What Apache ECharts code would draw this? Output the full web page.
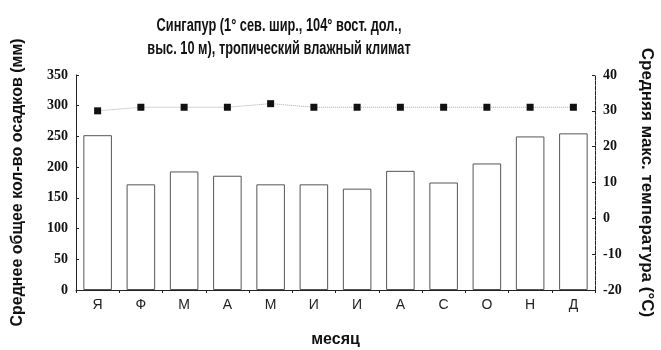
<!DOCTYPE html>
<html>
<head>
<meta charset="utf-8">
<script src="https://cdn.jsdelivr.net/npm/echarts@6/dist/echarts.min.js"></script>
<style>
  html, body { margin: 0; padding: 0; background: #ffffff; }
  #chart { width: 661px; height: 350px; }
</style>
</head>
<body>
<div id="chart"></div>
<script>
// Singapore climate: monthly precipitation and mean maximum temperature
const months = ['Я', 'Ф', 'М', 'А', 'М', 'И', 'И', 'А', 'С', 'О', 'Н', 'Д'];
const precipitation = [252, 172, 193, 186, 172, 172, 165, 194, 175, 206, 250, 255];
const maxTemp = [30, 31, 31, 31, 32, 31, 31, 31, 31, 31, 31, 31];
const precipTicks = { min: 0, max: 350, interval: 50 };
const tempTicks = { min: -20, max: 40, interval: 10 };

const titleLines = ['Сингапур (1° сев. шир., 104° вост. дол.,', 'выс. 10 м), тропический влажный климат'];
const leftName = 'Среднее общее кол-во осадков (мм)';
const rightName = 'Средняя макс. температура (°С)';
const xName = 'месяц';

const serif = '"Liberation Serif", "DejaVu Serif", serif';
const sans = '"Liberation Sans", Arial, sans-serif';

const chart = echarts.init(document.getElementById('chart'), null, { renderer: 'canvas' });

// Title drawn as condensed text (horizontally squeezed bold sans)
const titleGraphics = titleLines.map((line, i) => ({
  type: 'text',
  x: 279,
  y: 26 + i * 23,
  scaleX: 0.71,
  style: {
    text: line,
    fill: '#111',
    font: 'bold 18px ' + sans,
    textAlign: 'center',
    textVerticalAlign: 'middle'
  }
}));

chart.setOption({
  backgroundColor: '#ffffff',
  animation: false,
  graphic: titleGraphics,
  grid: { left: 76, right: 66, top: 75, bottom: 60, containLabel: false, outerBoundsMode: 'none' },
  xAxis: {
    type: 'category',
    data: months,
    boundaryGap: true,
    name: xName,
    nameLocation: 'middle',
    nameGap: 42,
    nameTextStyle: { fontFamily: sans, fontWeight: 'bold', fontSize: 16, color: '#111' },
    axisLine: { lineStyle: { color: '#222', width: 1 } },
    axisTick: { show: true, length: 3, inside: false, lineStyle: { color: '#222' } },
    axisLabel: { fontFamily: sans, fontSize: 14, color: '#222', margin: 8 }
  },
  yAxis: [
    {
      type: 'value',
      min: precipTicks.min,
      max: precipTicks.max,
      interval: precipTicks.interval,
      name: leftName,
      nameLocation: 'middle',
      nameGap: 50,
      nameRotate: 90,
      nameTextStyle: { fontFamily: sans, fontWeight: 'bold', fontSize: 16, color: '#111' },
      axisLine: { show: true, lineStyle: { color: '#222', width: 1 } },
      axisTick: { show: true, inside: true, length: 3, lineStyle: { color: '#222' } },
      axisLabel: { fontFamily: serif, fontWeight: 'bold', fontSize: 14, color: '#111', margin: 8 },
      splitLine: { show: false }
    },
    {
      type: 'value',
      min: tempTicks.min,
      max: tempTicks.max,
      interval: tempTicks.interval,
      position: 'right',
      name: rightName,
      nameLocation: 'middle',
      nameGap: 43,
      nameRotate: -90,
      nameTextStyle: { fontFamily: sans, fontWeight: 'bold', fontSize: 17, color: '#111' },
      axisLine: { show: true, lineStyle: { color: '#222', width: 1, type: [4, 1] } },
      axisTick: { show: true, inside: true, length: 3, lineStyle: { color: '#222' } },
      axisLabel: { fontFamily: serif, fontWeight: 'bold', fontSize: 14, color: '#111', margin: 8 },
      splitLine: { show: false }
    }
  ],
  series: [
    {
      type: 'bar',
      data: precipitation,
      yAxisIndex: 0,
      barWidth: '66%',
      itemStyle: {
        color: '#ffffff',
        borderColor: '#555',
        borderWidth: 1
      },
      z: 2
    },
    {
      type: 'line',
      data: maxTemp,
      yAxisIndex: 1,
      symbol: 'rect',
      symbolSize: 7,
      itemStyle: { color: '#111' },
      lineStyle: { color: '#aaa', width: 1, type: 'dotted' },
      z: 3
    }
  ]
});
</script>
</body>
</html>
